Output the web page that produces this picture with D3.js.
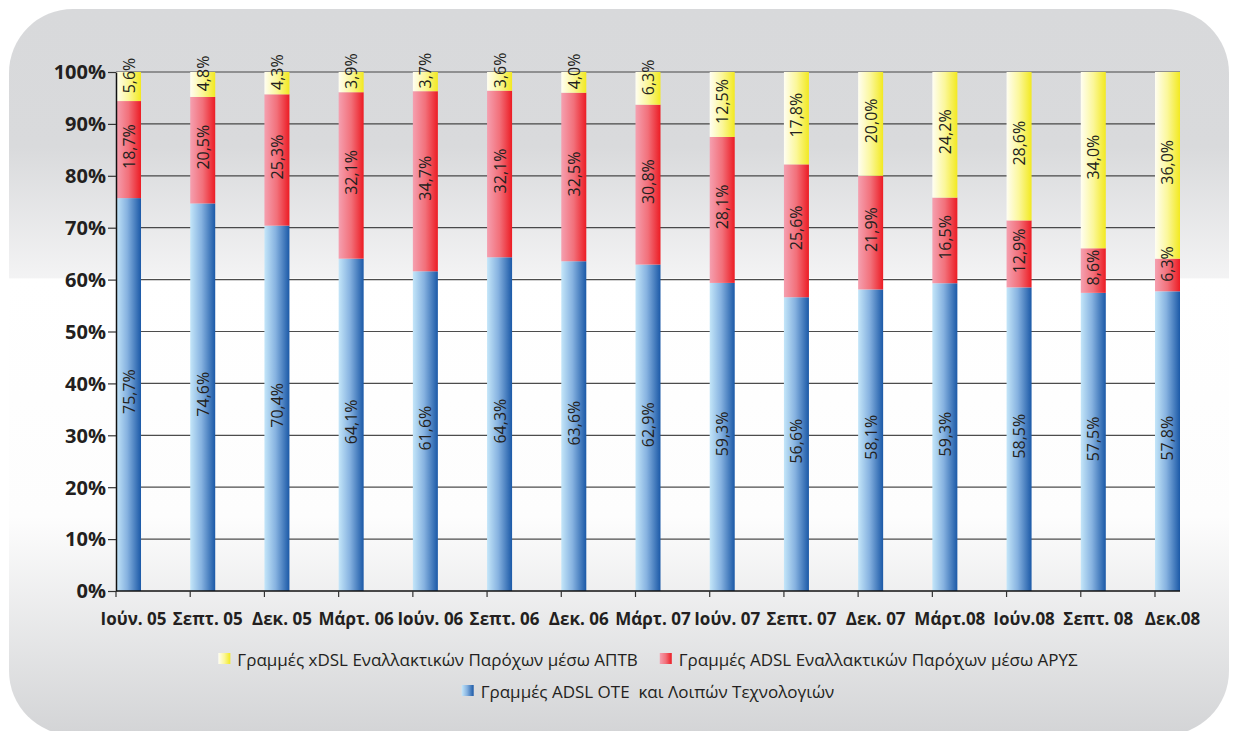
<!DOCTYPE html>
<html>
<head>
<meta charset="utf-8">
<script src="https://cdn.jsdelivr.net/npm/d3@7"></script>
<style>
  html, body { margin: 0; padding: 0; background: #ffffff; }
  svg { display: block; }
</style>
</head>
<body>
<svg id="chart" width="1251" height="731"></svg>
<script>
// ---- data ----
const categories = ["Ιούν. 05","Σεπτ. 05","Δεκ. 05","Μάρτ. 06","Ιούν. 06","Σεπτ. 06","Δεκ. 06","Μάρτ. 07","Ιούν. 07","Σεπτ. 07","Δεκ. 07","Μάρτ.08","Ιούν.08","Σεπτ. 08","Δεκ.08"];
const oteAdsl   = [75.7, 74.6, 70.4, 64.1, 61.6, 64.3, 63.6, 62.9, 59.3, 56.6, 58.1, 59.3, 58.5, 57.5, 57.8];
const altAdslAryS = [18.7, 20.5, 25.3, 32.1, 34.7, 32.1, 32.5, 30.8, 28.1, 25.6, 21.9, 16.5, 12.9, 8.6, 6.3];
const altXdslAptv = [5.6, 4.8, 4.3, 3.9, 3.7, 3.6, 4.0, 6.3, 12.5, 17.8, 20.0, 24.2, 28.6, 34.0, 36.0];
const seriesNames = ["Γραμμές ADSL ΟΤΕ  και Λοιπών Τεχνολογιών", "Γραμμές ADSL Εναλλακτικών Παρόχων μέσω ΑΡΥΣ", "Γραμμές xDSL Εναλλακτικών Παρόχων μέσω ΑΠΤΒ"];
const yTickValues = [0, 0.1, 0.2, 0.3, 0.4, 0.5, 0.6, 0.7, 0.8, 0.9, 1.0];

// ---- setup ----
const svg = d3.select("#chart");
const plot = { left: 116, right: 1180, top: 72, bottom: 591 };
const textColor = "#231f20";
const FONT = "'Open Sans', 'Noto Sans', sans-serif";

const keys = ["ote", "aryS", "aptv"];
const table = categories.map((c, i) => ({ cat: c, ote: oteAdsl[i], aryS: altAdslAryS[i], aptv: altXdslAptv[i] }));
const stacked = d3.stack().keys(keys).offset(d3.stackOffsetExpand)(table);

const defs = svg.append("defs");
function hGrad(id, stops) {
  const g = defs.append("linearGradient").attr("id", id).attr("x1", "0%").attr("x2", "100%").attr("y1", "0%").attr("y2", "0%");
  stops.forEach(s => g.append("stop").attr("offset", s[0]).attr("stop-color", s[1]));
}
hGrad("gBlue", [["0%", "#c4e6f9"], ["45%", "#86b2e0"], ["100%", "#1b59a7"]]);
hGrad("gRed", [["0%", "#f5a0b0"], ["50%", "#f2707a"], ["100%", "#ec1c24"]]);
hGrad("gYellow", [["0%", "#fffef2"], ["50%", "#fbf79a"], ["100%", "#f2e920"]]);
const fills = { ote: "url(#gBlue)", aryS: "url(#gRed)", aptv: "url(#gYellow)" };

const bg = defs.append("linearGradient").attr("id", "gBg").attr("x1", "0").attr("x2", "0").attr("y1", "0").attr("y2", "1");
[["0%", "#d8d9db"], ["19%", "#d9dadc"], ["37%", "#f3f3f4"], ["37.2%", "#ffffff"], ["70%", "#fdfdfd"], ["100%", "#d3d4d6"]]
  .forEach(s => bg.append("stop").attr("offset", s[0]).attr("stop-color", s[1]));

svg.append("rect").attr("x", 9).attr("y", 9).attr("width", 1220).attr("height", 726)
  .attr("rx", 64).attr("ry", 64).attr("fill", "url(#gBg)");

// ---- scales ----
const x = d3.scaleBand().domain(categories).range([plot.left, plot.right]).paddingInner(0.663).paddingOuter(0).align(0);
const y = d3.scaleLinear().domain([0, 1]).range([plot.bottom, plot.top]);

// gridlines
svg.append("g").selectAll("line").data(yTickValues.filter(v => v > 0)).join("line")
  .attr("x1", plot.left).attr("x2", plot.right)
  .attr("y1", d => y(d)).attr("y2", d => y(d))
  .attr("stroke", "#2e2e2e").attr("stroke-width", 1.2).attr("opacity", 0.85);

// bars
const layers = svg.append("g").selectAll("g").data(stacked).join("g").attr("fill", d => fills[d.key]);
layers.selectAll("rect").data(d => d).join("rect")
  .attr("x", d => x(d.data.cat))
  .attr("width", x.bandwidth())
  .attr("y", d => y(d[1]))
  .attr("height", d => y(d[0]) - y(d[1]));

// value labels
const fmt = v => d3.format(".1f")(v).replace(".", ",") + "%";
const labelG = svg.append("g").attr("font-family", FONT).attr("font-size", 16).attr("fill", textColor);
stacked.forEach(layer => {
  layer.forEach(d => {
    const h = y(d[0]) - y(d[1]);
    const shift = h < 40 ? 11 : 3;
    const cx = x(d.data.cat) + x.bandwidth() / 2;
    const cy = (y(d[0]) + y(d[1])) / 2 - shift;
    labelG.append("text")
      .attr("transform", `translate(${cx},${cy}) rotate(-90)`)
      .attr("text-anchor", "middle")
      .attr("dominant-baseline", "central")
      .text(fmt(d.data[layer.key]));
  });
});

// y axis
const yAxis = svg.append("g").attr("transform", `translate(${plot.left},0)`)
  .call(d3.axisLeft(y).tickValues(yTickValues).tickFormat(d3.format(".0%")).tickSize(8).tickPadding(2).tickSizeOuter(0));
yAxis.select(".domain").attr("stroke", "#111").attr("stroke-width", 1.5);
yAxis.selectAll(".tick line").attr("stroke", "#333").attr("stroke-width", 1.2);
yAxis.selectAll(".tick text").attr("font-family", FONT).attr("font-weight", 700).attr("font-size", 20)
  .attr("fill", textColor).attr("dy", "0.34em");

// x axis line + ticks at band starts
svg.append("line").attr("x1", plot.left).attr("x2", plot.right).attr("y1", plot.bottom).attr("y2", plot.bottom)
  .attr("stroke", "#111").attr("stroke-width", 1.5);
svg.append("g").selectAll("line").data(categories).join("line")
  .attr("x1", d => x(d)).attr("x2", d => x(d))
  .attr("y1", plot.bottom).attr("y2", plot.bottom + 6)
  .attr("stroke", "#333").attr("stroke-width", 1.2);
svg.append("g").selectAll("text").data(categories).join("text")
  .attr("x", d => x(d) + x.bandwidth() / 2 + 5)
  .attr("y", 625)
  .attr("text-anchor", "middle")
  .attr("font-family", FONT).attr("font-weight", 700).attr("font-size", 17)
  .attr("fill", textColor)
  .text(d => d);

// legend
const legendRows = [
  [{ key: "aptv", name: seriesNames[2] }, { key: "aryS", name: seriesNames[1] }],
  [{ key: "ote", name: seriesNames[0] }]
];
const rowBaselines = [666, 698];
const cxLegend = 648;
legendRows.forEach((row, ri) => {
  const g = svg.append("g");
  let cursor = 0;
  row.forEach((item, ii) => {
    if (ii > 0) cursor += 22;
    g.append("rect").attr("x", cursor).attr("y", rowBaselines[ri] - 13).attr("width", 12).attr("height", 11)
      .attr("fill", fills[item.key]);
    const t = g.append("text").attr("x", cursor + 19).attr("y", rowBaselines[ri])
      .attr("font-family", FONT).attr("font-size", 17).attr("fill", textColor)
      .attr("xml:space", "preserve").style("white-space", "pre")
      .text(item.name);
    cursor += 19 + t.node().getComputedTextLength();
  });
  g.attr("transform", `translate(${cxLegend - cursor / 2},0)`);
});
</script>
</body>
</html>
